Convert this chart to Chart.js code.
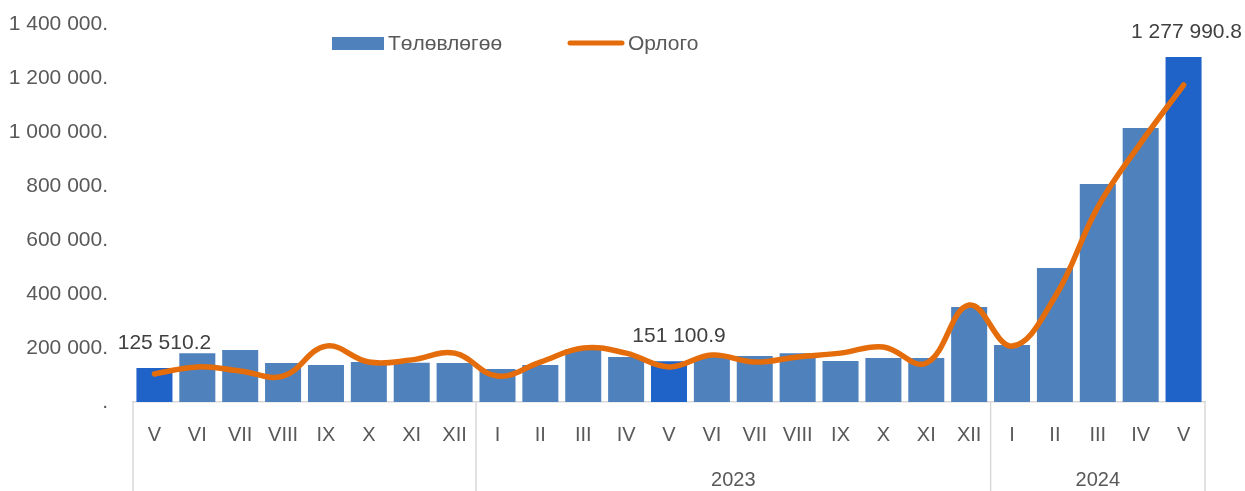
<!DOCTYPE html>
<html>
<head>
<meta charset="utf-8">
<script src="https://cdn.jsdelivr.net/npm/chart.js@4"></script>
<style>
  html, body { margin: 0; padding: 0; background: #fff; }
  #wrap { width: 1245px; height: 491px; }
</style>
</head>
<body>
<div id="wrap"><canvas id="chart" width="1245" height="491"></canvas></div>
<script>
const months = [
  "V", "VI", "VII", "VIII", "IX", "X", "XI", "XII",
  "I", "II", "III", "IV", "V", "VI", "VII", "VIII", "IX", "X", "XI", "XII",
  "I", "II", "III", "IV", "V",
];
const yearLabels = ["", "2023", "2024"];
const yearSpans = [8, 12, 5];

const planValues = [
  125510.2, 181000, 193000, 144000, 137000, 148000, 145000, 144000,
  122000, 137000, 195000, 167000, 151100.9, 167000, 170000, 181000, 152000, 163000, 163000, 352000,
  211000, 496000, 807000, 1015000, 1277990.8,
];
const incomeValues = [
  104000, 130000, 115000, 96000, 207000, 148000, 156000, 181000,
  96000, 148000, 200000, 181000, 130000, 174000, 148000, 167000, 181000, 204000, 144000, 359000,
  207000, 389000, 722000, 959000, 1174000,
];
// bars that get a value label (and the darker fill)
const labelledBars = [0, 12, 24];

const yTicks = [0, 200000, 400000, 600000, 800000, 1000000, 1200000, 1400000];

const FONT = "'Liberation Sans', Arial, sans-serif";
const BAR_COLOR = "#4f81bd";
const BAR_HILITE = "#1f63c9";
const LINE_COLOR = "#e46c0a";
const GRID = "#d9d9d9";

const groupDigits = (n) => String(n).replace(/\B(?=(\d{3})+(?!\d))/g, " ");

const tickText = (v) => (v === 0 ? "." : groupDigits(v) + ".");

const labelText = (v) => {
  const [int, dec] = v.toFixed(1).split(".");
  return groupDigits(int) + "." + dec;
};

const decorations = {
  id: "decorations",
  afterDatasetsDraw(chart) {
    const ctx = chart.ctx;
    const meta = chart.getDatasetMeta(0);
    ctx.save();
    ctx.font = `21px ${FONT}`;
    ctx.fillStyle = "#404040";
    ctx.textAlign = "center";
    ctx.textBaseline = "middle";
    labelledBars.forEach((i) => {
      const bar = meta.data[i];
      const text = labelText(planValues[i]);
      const w = ctx.measureText(text).width;
      let cx = bar.x + 10;
      cx = Math.min(cx, chart.width - 3 - w / 2);
      ctx.fillText(text, cx, bar.y - 25);
    });
    ctx.restore();
  },
  afterDraw(chart) {
    const ctx = chart.ctx;
    const x = chart.scales.x;
    const area = chart.chartArea;
    const catW = (x.right - x.left) / months.length;

    ctx.save();
    // group separators + year labels
    ctx.strokeStyle = GRID;
    ctx.lineWidth = 1.5;
    ctx.fillStyle = "#595959";
    ctx.font = `20px ${FONT}`;
    ctx.textAlign = "center";
    ctx.textBaseline = "middle";
    let start = 0;
    const edges = [x.getPixelForValue(0) - catW / 2];
    yearSpans.forEach((span, g) => {
      const end = start + span - 1;
      const left = x.getPixelForValue(start) - catW / 2;
      const right = x.getPixelForValue(end) + catW / 2;
      edges.push(right);
      if (yearLabels[g]) ctx.fillText(yearLabels[g], (left + right) / 2, 480);
      start += span;
    });
    edges.forEach((px) => {
      ctx.beginPath();
      ctx.moveTo(px, area.bottom);
      ctx.lineTo(px, chart.height);
      ctx.stroke();
    });

    // legend
    const ds = chart.data.datasets;
    ctx.font = `21px ${FONT}`;
    ctx.textAlign = "left";
    ctx.fillStyle = BAR_COLOR;
    ctx.fillRect(332, 37, 52, 13);
    ctx.fillStyle = "#595959";
    ctx.fillText(ds[0].label, 388, 44);
    ctx.strokeStyle = LINE_COLOR;
    ctx.lineWidth = 5;
    ctx.lineCap = "round";
    ctx.beginPath();
    ctx.moveTo(570, 43);
    ctx.lineTo(622, 43);
    ctx.stroke();
    ctx.fillText(ds[1].label, 628, 44);
    ctx.restore();
  },
};

new Chart(document.getElementById("chart"), {
  type: "bar",
  data: {
    labels: months,
    datasets: [
      {
        type: "bar",
        label: "Төлөвлөгөө",
        data: planValues,
        backgroundColor: planValues.map((_, i) =>
          labelledBars.includes(i) ? BAR_HILITE : BAR_COLOR,
        ),
        categoryPercentage: 1,
        barPercentage: 0.84,
        order: 2,
      },
      {
        type: "line",
        label: "Орлого",
        data: incomeValues,
        borderColor: LINE_COLOR,
        borderWidth: 5.5,
        tension: 0.4,
        pointRadius: 0,
        borderCapStyle: "round",
        order: 1,
      },
    ],
  },
  options: {
    responsive: false,
    animation: false,
    layout: { padding: { top: 24, right: 40, left: 0, bottom: 0 } },
    plugins: {
      legend: { display: false },
      tooltip: { enabled: false },
    },
    scales: {
      x: {
        grid: { display: false },
        border: { display: true, color: GRID, width: 1.5 },
        ticks: {
          color: "#595959",
          font: { family: FONT, size: 20 },
          padding: 13,
          maxRotation: 0,
          autoSkip: false,
        },
        afterFit(scale) {
          scale.height = 89;
        },
      },
      y: {
        min: 0,
        max: 1400000,
        grid: { display: false, drawTicks: false },
        border: { display: false },
        afterBuildTicks(scale) {
          scale.ticks = yTicks.map((v) => ({ value: v }));
        },
        ticks: {
          color: "#595959",
          font: { family: FONT, size: 21 },
          padding: 25,
          callback: (v) => tickText(v),
        },
        afterFit(scale) {
          scale.width = 133;
          scale.paddingTop = 0;
          scale.paddingBottom = 0;
        },
      },
    },
  },
  plugins: [decorations],
});
</script>
</body>
</html>
